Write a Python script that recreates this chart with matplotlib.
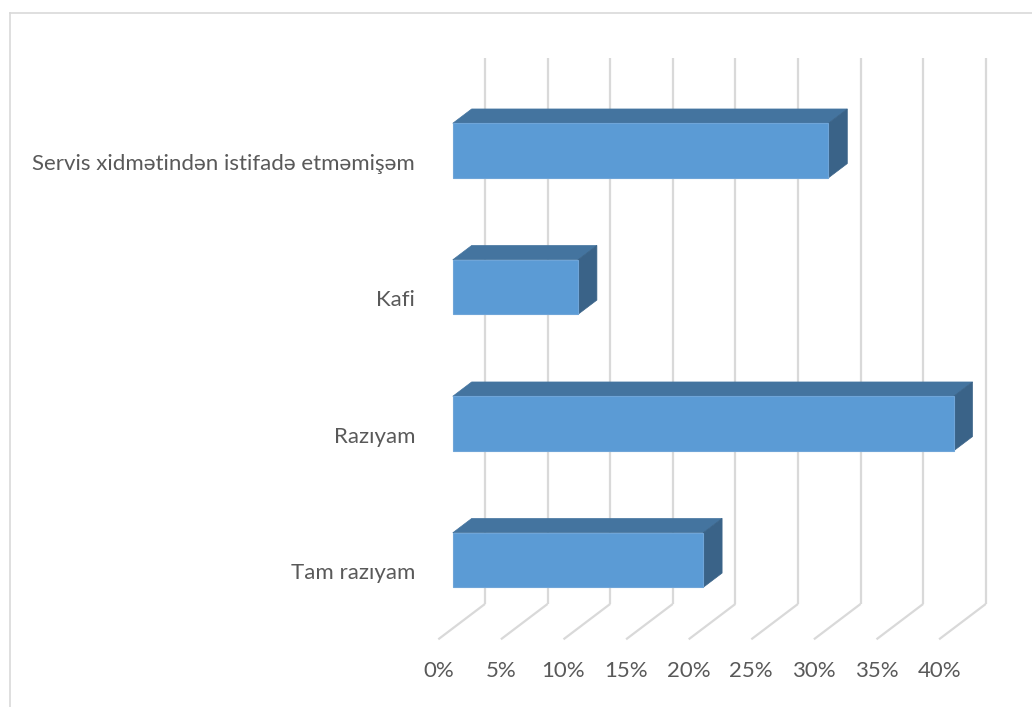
import matplotlib
matplotlib.use("Agg")
import matplotlib.pyplot as plt
from matplotlib.patches import Polygon, Rectangle

# Survey answers (bottom to top) and their shares in percent
categories = ["Tam razıyam", "Razıyam", "Kafi", "Servis xidmətindən istifadə etməmişəm"]
values = [20, 40, 10, 30]
x_ticks = [0, 5, 10, 15, 20, 25, 30, 35, 40]
x_tick_labels = ["0%", "5%", "10%", "15%", "20%", "25%", "30%", "35%", "40%"]

FRONT = "#5B9BD5"
TOP = "#44749F"
SIDE = "#3A6388"
GRID = "#D9D9D9"
TEXT = "#595959"
FONT = "Lato"

# Pseudo-3D depth of the plot box, in data units (x: percent, y: category)
depth_x = 3.73
depth_y = 0.259
bar_front = 0.31   # bar front face as a fraction of the depth
bar_back = 0.715   # bar back face as a fraction of the depth
bar_height = 0.4

fig = plt.figure(figsize=(10.32, 7.07), dpi=100)
fig.patch.set_facecolor("white")

# outer chart border (left and top edges visible)
fig.add_artist(plt.Line2D([10 / 1032, 10 / 1032], [0, 1 - 12.5 / 707],
                          color=GRID, lw=1.2, transform=fig.transFigure))
fig.add_artist(plt.Line2D([10 / 1032, 1.0], [1 - 12.5 / 707, 1 - 12.5 / 707],
                          color=GRID, lw=1.2, transform=fig.transFigure))

ax = fig.add_axes([438.3 / 1032, 1 - 639.3 / 707, 500.8 / 1032, 546 / 707])
ax.set_xlim(0, 40)
ax.set_ylim(-0.5, 3.5)
for s in ax.spines.values():
    s.set_visible(False)
ax.patch.set_alpha(0)

# back-wall gridlines and floor diagonals
y_floor = -0.5
y_top = 3.5
for t in x_ticks:
    ax.plot([t + depth_x, t + depth_x], [y_floor + depth_y, y_top + depth_y],
            color=GRID, lw=1.6, clip_on=False, zorder=1, solid_capstyle="butt")
    ax.plot([t, t + depth_x], [y_floor, y_floor + depth_y],
            color=GRID, lw=1.6, clip_on=False, zorder=1, solid_capstyle="butt")

# 3D bars
fx, fy = bar_front * depth_x, bar_front * depth_y
bx, by = bar_back * depth_x, bar_back * depth_y
for i, v in enumerate(values):
    y0 = i + fy - bar_height / 2
    y1 = i + fy + bar_height / 2
    x0 = fx
    x1 = v + fx
    ddx, ddy = bx - fx, by - fy
    top = Polygon([(x0, y1), (x1, y1), (x1 + ddx, y1 + ddy), (x0 + ddx, y1 + ddy)],
                  closed=True, facecolor=TOP, edgecolor=TOP, lw=0.5,
                  clip_on=False, zorder=3)
    side = Polygon([(x1, y0), (x1 + ddx, y0 + ddy), (x1 + ddx, y1 + ddy), (x1, y1)],
                   closed=True, facecolor=SIDE, edgecolor=SIDE, lw=0.5,
                   clip_on=False, zorder=3)
    front = Rectangle((x0, y0), x1 - x0, y1 - y0, facecolor=FRONT,
                      edgecolor="#6FA5D8", lw=0.8, clip_on=False, zorder=4)
    ax.add_patch(top)
    ax.add_patch(side)
    ax.add_patch(front)

ax.set_yticks(range(len(categories)))
ax.set_yticklabels(categories)
ax.set_xticks(x_ticks)
ax.set_xticklabels(x_tick_labels)
ax.tick_params(axis="both", length=0, colors=TEXT, labelsize=16)
ax.tick_params(axis="y", pad=16.6)
ax.tick_params(axis="x", pad=15.5)
for lab in ax.get_xticklabels() + ax.get_yticklabels():
    lab.set_fontfamily(FONT)
    lab.set_color(TEXT)

fig.savefig("out.png", dpi=100, facecolor="white")
